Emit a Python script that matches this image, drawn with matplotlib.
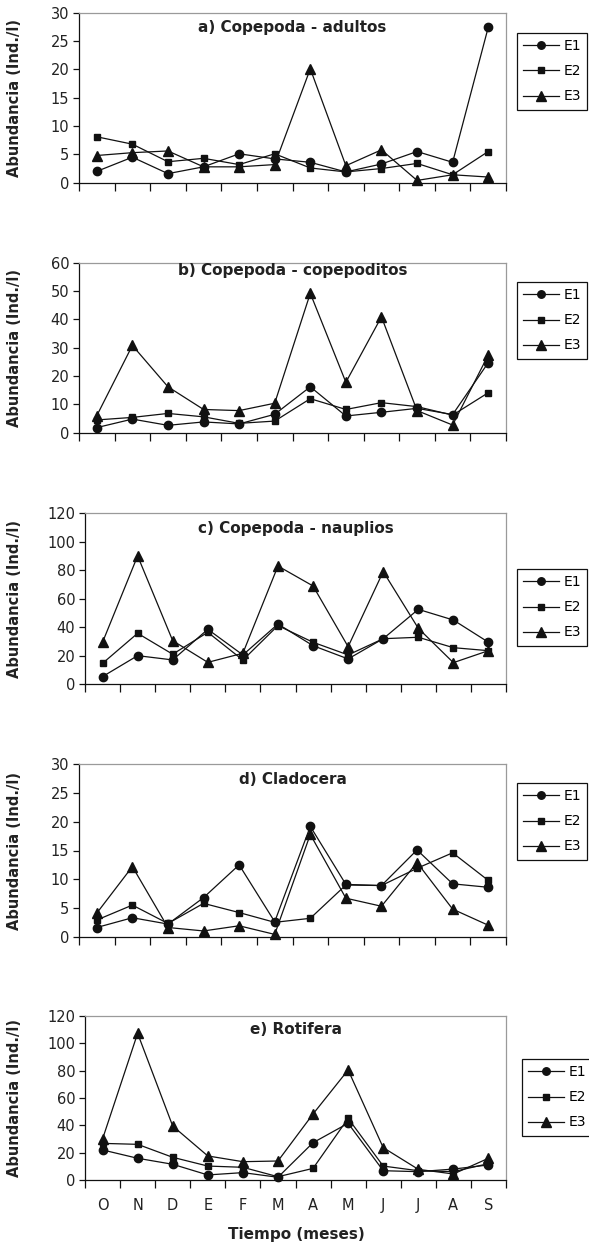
import matplotlib

matplotlib.use("Agg")
import matplotlib.pyplot as plt
from matplotlib.lines import Line2D

# months, Oct -> Sep
months = ["O", "N", "D", "E", "F", "M", "A", "M", "J", "J", "A", "S"]
stations = ["E1", "E2", "E3"]

# a) Copepoda - adultos
adultos_e1 = [2.0, 4.5, 1.6, 2.8, 5.1, 4.2, 3.6, 1.9, 3.3, 5.5, 3.6, 27.4]
adultos_e2 = [8.1, 6.8, 3.7, 4.3, 3.2, 5.1, 2.6, 1.9, 2.5, 3.4, 1.4, 5.5]
adultos_e3 = [4.8, 5.3, 5.6, 2.8, 2.8, 3.2, 20.1, 3.0, 5.8, 0.4, 1.4, 1.0]

# b) Copepoda - copepoditos
copepoditos_e1 = [1.8, 4.8, 2.6, 3.8, 3.1, 6.5, 16.2, 5.9, 7.2, 8.6, 6.4, 24.7]
copepoditos_e2 = [4.5, 5.4, 6.8, 5.6, 3.3, 4.1, 12.0, 8.2, 10.6, 9.2, 6.2, 14.1]
copepoditos_e3 = [6.0, 30.8, 16.2, 8.2, 7.8, 10.4, 49.2, 17.8, 40.9, 7.8, 2.7, 27.4]

# c) Copepoda - nauplios
nauplios_e1 = [5.4, 20.1, 17.1, 38.6, 20.6, 42.3, 27.1, 17.8, 32.0, 52.6, 45.1, 29.5]
nauplios_e2 = [14.7, 35.8, 21.1, 36.5, 17.0, 41.2, 29.5, 20.6, 32.0, 33.0, 25.7, 23.6]
nauplios_e3 = [29.5, 90.1, 30.6, 15.4, 21.8, 83.0, 69.0, 26.4, 79.1, 39.3, 15.2, 23.6]

# d) Cladocera
cladocera_e1 = [1.6, 3.3, 2.2, 6.8, 12.5, 2.6, 19.2, 9.1, 8.9, 15.1, 9.2, 8.6]
cladocera_e2 = [2.9, 5.5, 2.3, 5.8, 4.2, 2.5, 3.2, 9.0, 8.9, 11.9, 14.6, 9.8]
cladocera_e3 = [4.1, 12.2, 1.6, 1.0, 1.9, 0.4, 17.8, 6.7, 5.3, 12.9, 4.8, 2.0]

# e) Rotifera
rotifera_e1 = [22.0, 15.9, 11.5, 3.7, 5.4, 2.0, 27.3, 41.5, 6.8, 6.1, 8.0, 11.0]
rotifera_e2 = [26.8, 26.1, 16.6, 10.2, 9.3, 2.4, 8.5, 45.1, 10.2, 6.8, 6.1, 12.0]
rotifera_e3 = [30.0, 107.3, 39.5, 17.6, 13.4, 13.9, 48.3, 80.5, 23.7, 7.8, 4.4, 15.9]

titles = ["a) Copepoda - adultos", "b) Copepoda - copepoditos",
          "c) Copepoda - nauplios", "d) Cladocera", "e) Rotifera"]
series = [
    (adultos_e1, adultos_e2, adultos_e3),
    (copepoditos_e1, copepoditos_e2, copepoditos_e3),
    (nauplios_e1, nauplios_e2, nauplios_e3),
    (cladocera_e1, cladocera_e2, cladocera_e3),
    (rotifera_e1, rotifera_e2, rotifera_e3),
]
y_max = [30, 60, 120, 30, 120]
y_step = [5, 10, 20, 5, 20]

W, H = 589, 1247
# panel boxes in pixels: left, right, top, bottom
boxes = [
    (79, 506, 12.7, 182.7),
    (79, 506, 262.7, 432.7),
    (85, 506, 513.3, 684.3),
    (79, 506, 764.3, 936.7),
    (85, 506, 1016, 1180),
]
title_off = [15, 8, 15, 15, 14]      # px below top of plot area
legend_pos = [(517, 33), (517, 282), (517, 569), (517, 783), (522, 1059)]

markers = ["o", "s", "^"]
msizes = [6, 5, 7.5]
ink = "#111111"
txt = "#222222"

plt.rcParams["font.family"] = "DejaVu Sans"

fig = plt.figure(figsize=(W / 100, H / 100), dpi=100)

for k in range(5):
    l, r, t, b = boxes[k]
    ax = fig.add_axes([l / W, 1 - b / H, (r - l) / W, (b - t) / H])
    x = [i + 0.5 for i in range(len(months))]
    for s, vals in enumerate(series[k]):
        ax.plot(x, vals, color=ink, lw=0.9, marker=markers[s], ms=msizes[s],
                mfc=ink, mec=ink, clip_on=False, zorder=3)

    ax.set_xlim(0, 12)
    ax.set_ylim(0, y_max[k])
    ax.set_yticks(range(0, y_max[k] + 1, y_step[k]))
    ax.set_xticks(range(0, 13))
    ax.set_xticklabels([])
    ax.tick_params(axis="y", direction="out", length=4, width=0.9, pad=3,
                   labelsize=10.5, colors=ink, labelcolor=txt)
    ax.tick_params(axis="x", direction="out", length=6, width=0.9, colors=ink)
    for side in ("left", "bottom"):
        ax.spines[side].set_color(ink)
        ax.spines[side].set_linewidth(0.9)
    for side in ("top", "right"):
        ax.spines[side].set_color("#9a9a9a")
        ax.spines[side].set_linewidth(0.9)

    if k == 4:
        ax.set_xticks(x, minor=True)
        ax.set_xticklabels(months, minor=True)
        ax.tick_params(axis="x", which="minor", length=0, pad=13,
                       labelsize=10.5, labelcolor=txt)

    ax.text(0.5, 1 - title_off[k] / (b - t), titles[k], transform=ax.transAxes,
            ha="center", va="center", fontsize=11, fontweight="bold", color=txt)

    fig.text(15 / W, 1 - (t + b) / 2 / H, "Abundancia (Ind./l)", rotation=90,
             ha="center", va="center", fontsize=10.5, fontweight="bold", color=txt)

    handles = [Line2D([], [], color=ink, lw=0.9, marker=markers[s],
                      ms=msizes[s] * 0.9, mfc=ink, mec=ink)
               for s in range(3)]
    lx, ly = legend_pos[k]
    leg = fig.legend(handles, stations, loc="upper left",
                     bbox_to_anchor=(lx / W, 1 - ly / H), frameon=True,
                     fancybox=False, edgecolor=ink, framealpha=1,
                     fontsize=10, handlelength=2.6, handletextpad=0.3,
                     labelspacing=0.8, borderpad=0.45, borderaxespad=0)
    leg.get_frame().set_linewidth(0.9)

fig.text(296 / W, 1 - 1235 / H, "Tiempo (meses)", ha="center", va="center",
         fontsize=11, fontweight="bold", color=txt)

fig.savefig("out.png", dpi=100)
